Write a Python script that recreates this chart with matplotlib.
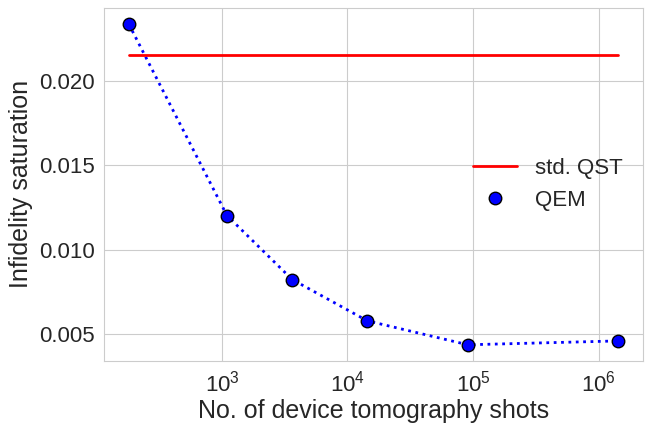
import matplotlib
matplotlib.use("Agg")
import matplotlib.pyplot as plt
import seaborn as sns

shots = [181, 1096, 3630, 14400, 91000, 1.44e6]
qem_infidelity = [0.02338, 0.01202, 0.00822, 0.00577, 0.00435, 0.00458]
std_qst = 0.02154

sns.set_style("whitegrid")
plt.rcParams['font.family'] = ['Liberation Sans', 'DejaVu Sans']

fig, ax = plt.subplots(figsize=(6.52, 4.23), dpi=100)
ax.plot(shots, qem_infidelity, ':', color='blue', lw=2)
ax.plot([shots[0], shots[-1]], [std_qst, std_qst], '-', color='red', lw=2, label='std. QST')
ax.plot(shots, qem_infidelity, 'o', color='blue', mec='black', ms=9, mew=1, label='QEM')
ax.set_xscale('log')
ax.minorticks_off()
ax.tick_params(labelsize=16)
ax.set_xlabel('No. of device tomography shots', fontsize=18, labelpad=2)
ax.set_ylabel('Infidelity saturation', fontsize=18)
ax.set_yticks([0.005, 0.010, 0.015, 0.020])
ax.set_yticklabels(['0.005', '0.010', '0.015', '0.020'])
ax.legend(fontsize=16, loc='center right', bbox_to_anchor=(1.0, 0.5), frameon=False)
for s in ax.spines.values():
    s.set_color('#cccccc')
fig.subplots_adjust(left=0.16, right=0.986, top=0.981, bottom=0.147)
fig.savefig('out.png', dpi=100)
